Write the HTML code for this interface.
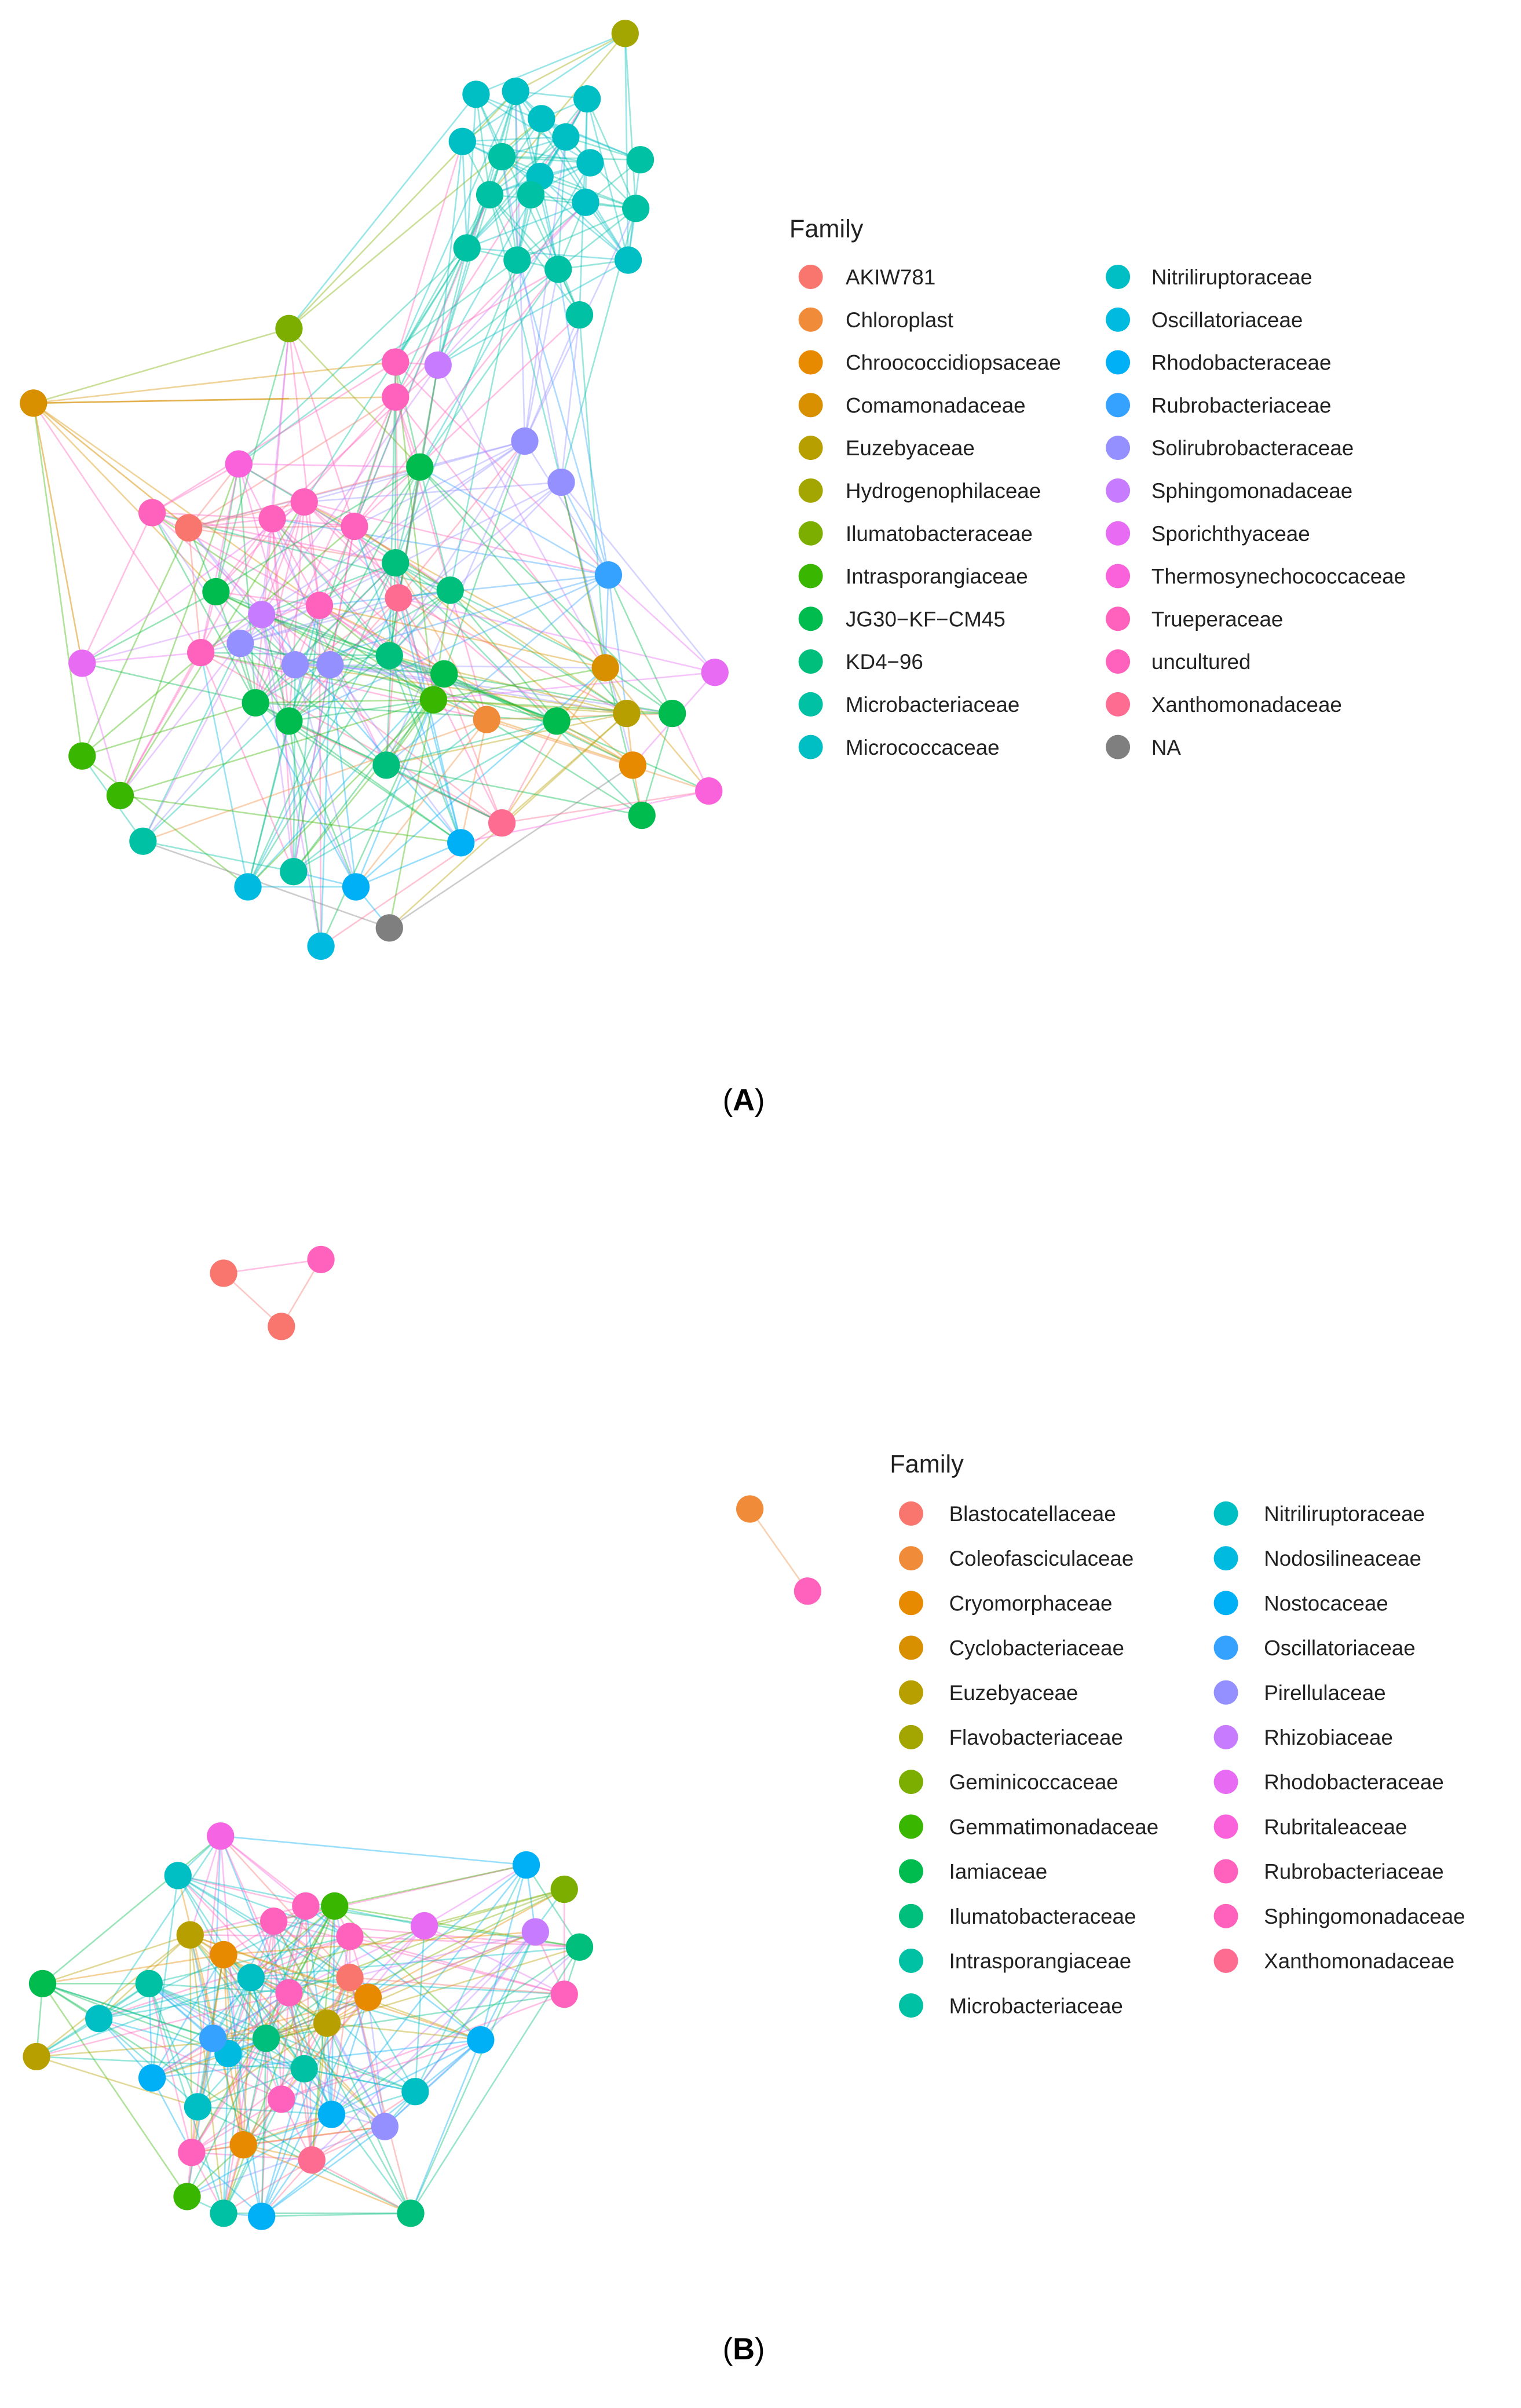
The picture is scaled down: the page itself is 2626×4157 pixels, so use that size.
<!DOCTYPE html>
<html><head><meta charset="utf-8">
<style>
html,body{margin:0;padding:0;background:#fff;}
svg{display:block;}
text{font-family:"Liberation Sans",Arial,sans-serif;}
</style></head>
<body>
<svg id="s" width="2626" height="4157" viewBox="0 0 1000 1583" xmlns="http://www.w3.org/2000/svg">
<g id="edges"></g><g id="nodes"></g><g id="leg"></g>
<text x="489" y="730" font-family="Liberation Serif" font-size="20" text-anchor="middle">(<tspan font-weight="bold">A</tspan>)</text>
<text x="489" y="1551" font-family="Liberation Serif" font-size="20" text-anchor="middle">(<tspan font-weight="bold">B</tspan>)</text>
</svg>
<script>
var C={sal:'#F8766D',or1:'#F08B3A',or2:'#E88A00',brn:'#D89000',olv:'#B79F00',olg:'#A3A500',lg:'#7CAE00',g1:'#39B600',g2:'#00BB4E',g3:'#00BF7D',tl:'#00C1A3',cy:'#00BFC4',cy2:'#00BAE0',bl:'#00B0F6',bl2:'#35A2FF',pu:'#9590FF',pu2:'#C77CFF',mg:'#E76BF3',mg2:'#FA62DB',pk:'#FF62BC',pk2:'#FF6C91',gr:'#7F7F7F',lpk:'#F564E3'};
var A=[[411,22,'olg'],[313,62,'cy'],[339,60,'cy'],[386,65,'cy'],[356,78,'cy'],[304,93,'cy'],[372,90,'cy'],[330,103,'tl'],[355,116,'cy'],[388,107,'cy'],[421,105,'tl'],[322,128,'tl'],[349,128,'tl'],[385,133,'cy'],[418,137,'tl'],[307,163,'tl'],[340,171,'tl'],[367,177,'tl'],[413,171,'cy'],[381,207,'tl'],
[190,216,'lg'],[22,265,'brn'],[260,238,'pk'],[288,240,'pu2'],[260,261,'pk'],[157,305,'mg2'],[100,337,'pk'],[124,347,'sal'],[179,341,'pk'],[200,330,'pk'],[233,346,'pk'],[345,290,'pu'],[369,317,'pu'],[276,307,'g2'],[142,389,'g2'],[260,370,'g3'],[296,388,'g3'],[210,398,'pk'],[262,393,'pk2'],[400,378,'bl2'],[54,436,'mg'],[132,429,'pk'],[158,423,'pu'],[172,404,'pu2'],[194,437,'pu'],[217,437,'pu'],[256,431,'g3'],[292,443,'g2'],[285,460,'g1'],[168,462,'g2'],[190,474,'g2'],[320,473,'or1'],[366,474,'g2'],[398,439,'brn'],[412,469,'olv'],[442,469,'g2'],[470,442,'mg'],[54,497,'g1'],[79,523,'g1'],[94,553,'tl'],[254,503,'g3'],[416,503,'or2'],[466,520,'mg2'],[422,536,'g2'],[330,541,'pk2'],[303,554,'bl'],[163,583,'cy2'],[193,573,'tl'],[234,583,'bl'],[256,610,'gr'],[211,622,'cy2']];
var B1=[[147,837,'sal'],[211,828,'pk'],[185,872,'sal']];
var B2=[[493,992,'or1'],[531,1046,'pk']];
var B3=[[145,1207,'lpk'],[117,1233,'cy'],[180,1263,'pk'],[201,1253,'pk'],[220,1253,'g1'],[230,1273,'pk'],[125,1272,'olv'],[147,1285,'or2'],[279,1266,'mg'],[346,1226,'bl'],[371,1242,'lg'],[381,1280,'g3'],[352,1270,'pu2'],[371,1311,'pk'],[316,1341,'bl'],[28,1304,'g2'],[98,1304,'tl'],[65,1327,'cy'],[24,1352,'olv'],[242,1313,'or2'],[100,1366,'bl'],[130,1385,'cy'],[218,1390,'bl'],[253,1398,'pu'],[273,1375,'cy'],[126,1415,'pk'],[160,1410,'or2'],[205,1420,'pk2'],[123,1444,'g1'],[147,1455,'tl'],[172,1457,'bl'],[270,1455,'g3'],[150,1350,'cy2'],[175,1340,'g3'],[200,1360,'tl'],[185,1380,'pk'],[140,1340,'bl2'],[215,1330,'olv'],[190,1310,'pk'],[165,1300,'cy'],[230,1300,'sal']];
var seed=7;function r(){seed=(seed*16807)%2147483647;return seed/2147483647;}
var E='',N='';
function net(L,k,maxd){for(var i=0;i<L.length;i++){for(var j=i+1;j<L.length;j++){var dx=L[i][0]-L[j][0],dy=L[i][1]-L[j][1],d=Math.sqrt(dx*dx+dy*dy);if(d<maxd&&r()<k*(1-d/maxd*0.6)){var c=C[r()<0.5?L[i][2]:L[j][2]];E+='<line x1="'+L[i][0]+'" y1="'+L[i][1]+'" x2="'+L[j][0]+'" y2="'+L[j][1]+'" stroke="'+c+'" stroke-width="1" stroke-opacity="0.4"/>';}}}
for(var i=0;i<L.length;i++)N+='<circle cx="'+L[i][0]+'" cy="'+L[i][1]+'" r="9" fill="'+C[L[i][2]]+'"/>';}
net(A,0.6,240);
E+='<line x1="22" y1="265" x2="124" y2="347" stroke="#D89000" stroke-opacity="0.5"/><line x1="22" y1="265" x2="190" y2="262" stroke="#D89000" stroke-opacity="0.5"/><line x1="22" y1="265" x2="54" y2="436" stroke="#D89000" stroke-opacity="0.5"/>';
net(B1,1,200);net(B2,1,200);net(B3,0.65,220);
document.getElementById('edges').innerHTML=E;document.getElementById('nodes').innerHTML=N;
var LA1=[['AKIW781','sal'],['Chloroplast','or1'],['Chroococcidiopsaceae','or2'],['Comamonadaceae','brn'],['Euzebyaceae','olv'],['Hydrogenophilaceae','olg'],['Ilumatobacteraceae','lg'],['Intrasporangiaceae','g1'],['JG30\u2212KF\u2212CM45','g2'],['KD4\u221296','g3'],['Microbacteriaceae','tl'],['Micrococcaceae','cy']];
var LA2=[['Nitriliruptoraceae','cy'],['Oscillatoriaceae','cy2'],['Rhodobacteraceae','bl'],['Rubrobacteriaceae','bl2'],['Solirubrobacteraceae','pu'],['Sphingomonadaceae','pu2'],['Sporichthyaceae','mg'],['Thermosynechococcaceae','mg2'],['Trueperaceae','pk'],['uncultured','pk'],['Xanthomonadaceae','pk2'],['NA','gr']];
var LB1=[['Blastocatellaceae','sal'],['Coleofasciculaceae','or1'],['Cryomorphaceae','or2'],['Cyclobacteriaceae','brn'],['Euzebyaceae','olv'],['Flavobacteriaceae','olg'],['Geminicoccaceae','lg'],['Gemmatimonadaceae','g1'],['Iamiaceae','g2'],['Ilumatobacteraceae','g3'],['Intrasporangiaceae','tl'],['Microbacteriaceae','tl']];
var LB2=[['Nitriliruptoraceae','cy'],['Nodosilineaceae','cy2'],['Nostocaceae','bl'],['Oscillatoriaceae','bl2'],['Pirellulaceae','pu'],['Rhizobiaceae','pu2'],['Rhodobacteraceae','mg'],['Rubritaleaceae','mg2'],['Rubrobacteriaceae','pk'],['Sphingomonadaceae','pk'],['Xanthomonadaceae','pk2']];
var G='';
function leg(L,cx,tx,y0,dy){for(var i=0;i<L.length;i++){var y=y0+i*dy;G+='<circle cx="'+cx+'" cy="'+y+'" r="8" fill="'+C[L[i][1]]+'"/><text x="'+tx+'" y="'+(y+5)+'" font-size="14" fill="#222">'+L[i][0]+'</text>';}}
G+='<text x="519" y="156" font-size="16.5" fill="#222">Family</text>';
leg(LA1,533,556,182,28.1);leg(LA2,735,757,182,28.1);
G+='<text x="585" y="968" font-size="16.5" fill="#222">Family</text>';
leg(LB1,599,624,995,29.4);leg(LB2,806,831,995,29.4);
document.getElementById('leg').innerHTML=G;
</script>
</body></html>
